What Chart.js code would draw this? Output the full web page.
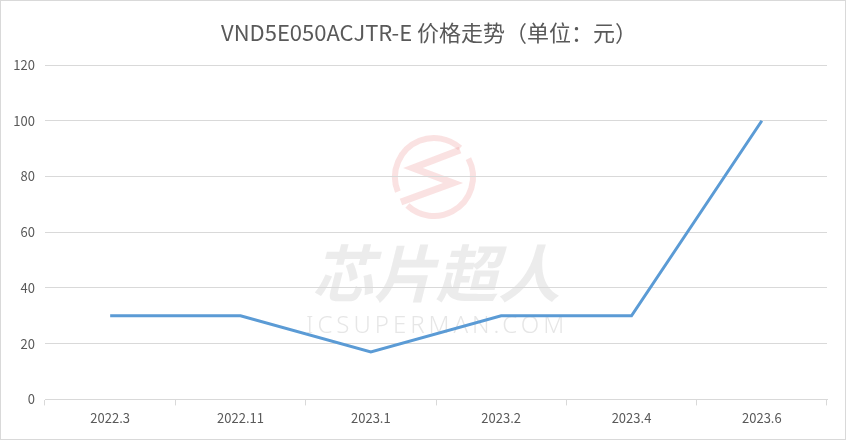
<!DOCTYPE html>
<html><head><meta charset="utf-8">
<script src="https://cdn.jsdelivr.net/npm/chart.js@4/dist/chart.umd.min.js"></script>
<style>html,body{margin:0;padding:0;background:#fff;}#wrap{width:846px;height:440px;}</style>
</head><body><div id="wrap"><canvas id="c" width="846" height="440"></canvas></div>
<script>
const titleText = 'VND5E050ACJTR-E 价格走势（单位：元）';
const categories = ['2022.3','2022.11','2023.1','2023.2','2023.4','2023.6'];
const prices = [30, 30, 17, 30, 30, 100];
const yTicks = [0, 20, 40, 60, 80, 100, 120];

const deco = {
  id: 'deco',
  beforeDraw(chart) {
    const ctx = chart.ctx;
    const d = Math.PI / 180;
    ctx.save();
    ctx.fillStyle = '#fff';
    ctx.fillRect(0,0,chart.width,chart.height);
    ctx.strokeStyle = 'rgba(236,150,150,0.28)';
    ctx.lineWidth = 6;
    ctx.beginPath(); ctx.arc(434,177,39,-28*d,133*d); ctx.stroke();
    ctx.beginPath(); ctx.arc(434,177,39,158*d,312*d); ctx.stroke();
    ctx.lineWidth = 7;
    ctx.lineJoin='miter';
    ctx.beginPath(); ctx.moveTo(460,150); ctx.lineTo(413,168); ctx.lineTo(453,183); ctx.lineTo(401,202); ctx.stroke();
    ctx.fillStyle = 'rgba(200,200,200,0.35)';
    ctx.font = 'italic bold 62px "Noto Sans CJK SC"';
    ctx.textAlign = 'center'; ctx.textBaseline = 'alphabetic';
    ctx.fillText('芯片超人', 436, 297);
    ctx.fillStyle = 'rgba(200,200,200,0.45)';
    ctx.font = '300 24px "Noto Sans"';
    try { ctx.letterSpacing = '4px'; } catch(e) {}
    ctx.fillText('ICSUPERMAN.COM', 437, 333);
    ctx.restore();
  },
  afterDraw(chart) {
    const ctx = chart.ctx;
    ctx.save();
    ctx.fillStyle = '#595959';
    ctx.font = '22px "Noto Sans CJK SC"';
    ctx.textAlign = 'left'; ctx.textBaseline = 'middle';
    ctx.fillText(titleText, 221, 33);
    ctx.strokeStyle = '#D9D9D9'; ctx.lineWidth = 1;
    ctx.strokeRect(0.5,0.5,chart.width-1,chart.height-1);
    ctx.restore();
  }
};

new Chart(document.getElementById('c'), {
  type: 'line',
  data: { labels: categories, datasets: [{ data: prices, borderColor: '#5B9BD5', borderWidth: 3, pointRadius: 0, tension: 0, fill: false }] },
  options: {
    responsive: false, animation: false,
    layout: { padding: { left: 0, right: 19, top: 65, bottom: 9 } },
    plugins: {
      legend: { display: false }, tooltip: { enabled: false }, title: { display: false }
    },
    scales: {
      x: {
        offset: true,
        grid: { offset: true, drawOnChartArea: false, drawTicks: true, tickLength: 6, color: '#D9D9D9' },
        border: { color: '#D9D9D9' },
        ticks: { color: '#595959', font: { family: '"Noto Sans CJK SC"', size: 13 }, padding: 5, maxRotation: 0 }
      },
      y: {
        min: 0, max: 120,
        afterFit(s) { s.width = 45; },
        afterBuildTicks(s) { s.ticks = yTicks.map(v => ({ value: v })); },
        grid: { color: '#D9D9D9', drawTicks: false },
        border: { display: false },
        ticks: { color: '#595959', font: { family: '"Noto Sans CJK SC"', size: 13 }, padding: 10 }
      }
    }
  },
  plugins: [deco]
});
</script></body></html>
